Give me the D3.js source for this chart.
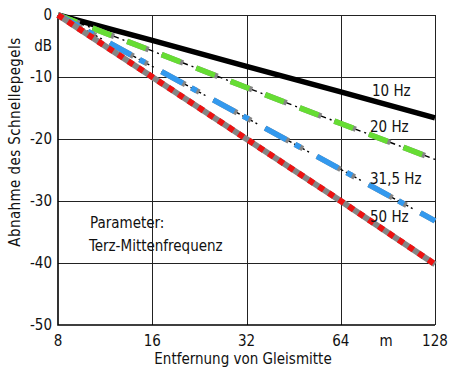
<!DOCTYPE html>
<html>
<head>
<meta charset="utf-8">
<script src="https://cdn.jsdelivr.net/npm/d3@7"></script>
<style>
  html, body { margin: 0; padding: 0; background: #fff; }
  svg { display: block; }
  text { font-family: "Liberation Sans Narrow", "DejaVu Sans Condensed", "Arial Narrow", sans-serif; fill: #111; }
</style>
</head>
<body>
<svg id="chart" width="449" height="370"></svg>
<script>
// Distance from track centre (m) and level decrease (dB) per third-octave band
const distances = [8, 16, 32, 64, 128];
const att10Hz  = [0, -4.1, -8.3, -12.4, -16.6];
const att20Hz  = [0, -5.8, -11.7, -17.5, -23.3];
const att315Hz = [0, -8.3, -16.6, -24.9, -33.2];
const att50Hz  = [0, -10.0, -20.0, -30.0, -40.2];

const seriesNames = ["10 Hz", "20 Hz", "31,5 Hz", "50 Hz"];

const xTicks = [8, 16, 32, 64, 128];
const xTickLabels = ["8", "16", "32", "64", "128"];
const yTicks = [0, -10, -20, -30, -40, -50];
const yTickLabels = ["0", "-10", "-20", "-30", "-40", "-50"];

const svg = d3.select("#chart");
const x = d3.scaleLog().base(2).domain([8, 128]).range([58, 435]);
const y = d3.scaleLinear().domain([-50, 0]).range([325, 15]);

// Grid
const grid = svg.append("g").attr("stroke", "#222").attr("stroke-width", 1);
grid.selectAll("line.h").data(yTicks.filter(v => v > -50)).join("line")
  .attr("x1", x(8)).attr("x2", x(128))
  .attr("y1", d => y(d) + 0.5).attr("y2", d => y(d) + 0.5);
grid.selectAll("line.v").data(xTicks.filter(v => v > 8)).join("line")
  .attr("y1", y(0)).attr("y2", y(-50))
  .attr("x1", d => Math.round(x(d)) + 0.5).attr("x2", d => Math.round(x(d)) + 0.5);

// Axes frame (left + bottom)
svg.append("path")
  .attr("d", `M${x(8)},${y(0)}V${y(-50)}H${x(128)}`)
  .attr("fill", "none").attr("stroke", "#000").attr("stroke-width", 1.6);

// Series
const lineGen = d3.line().x((d, i) => x(distances[i])).y(d => y(d));
const layers = [
  { values: att10Hz, strokes: [ { c: "#000", w: 5.5, dash: null } ] },
  { values: att20Hz, strokes: [
      { c: "#000", w: 1.4, dash: "28,4,2,3" },
      { c: "#858585", w: 5.5, dash: "23,14" },
      { c: "#66dd33", w: 5.5, dash: "20,17" } ] },
  { values: att315Hz, strokes: [
      { c: "#000", w: 1.4, dash: "30,3,2,2,8,3,2,9" },
      { c: "#858585", w: 5.5, dash: "27,7,9,16" },
      { c: "#3399ee", w: 5.5, dash: "24,10,6,19" } ] },
  { values: att50Hz, strokes: [
      { c: "#858585", w: 6, dash: null },
      { c: "#ee1111", w: 6, dash: "6,6" } ] }
];
const lg = svg.append("g").attr("fill", "none");
layers.forEach(s => {
  s.strokes.forEach(st => {
    lg.append("path").attr("d", lineGen(s.values))
      .attr("stroke", st.c).attr("stroke-width", st.w)
      .attr("stroke-dasharray", st.dash)
      .attr("stroke-linecap", "butt");
  });
});

// Series labels
const labelPos = [[372, 96], [370, 132], [370, 184], [370, 222]];
svg.append("g").selectAll("text").data(seriesNames).join("text")
  .attr("x", (d, i) => labelPos[i][0]).attr("y", (d, i) => labelPos[i][1])
  .attr("font-size", 15).text(d => d);

// Y tick labels
svg.append("g").selectAll("text").data(yTicks).join("text")
  .attr("x", 52).attr("y", d => y(d) + 5).attr("text-anchor", "end")
  .attr("font-size", 15).text((d, i) => yTickLabels[i]);
svg.append("text").attr("x", 52).attr("y", y(-5) + 5).attr("text-anchor", "end")
  .attr("font-size", 15).text("dB");

// X tick labels
svg.append("g").selectAll("text").data(xTicks).join("text")
  .attr("x", d => x(d)).attr("y", 346).attr("text-anchor", "middle")
  .attr("font-size", 15).text((d, i) => xTickLabels[i]);
svg.append("text").attr("x", 386).attr("y", 346).attr("text-anchor", "middle")
  .attr("font-size", 15).text("m");

// Axis titles
svg.append("text").attr("x", 243).attr("y", 364).attr("text-anchor", "middle")
  .attr("font-size", 15).text("Entfernung von Gleismitte");
svg.append("text").attr("transform", "translate(20,142) rotate(-90)")
  .attr("text-anchor", "middle").attr("font-size", 15).attr("letter-spacing", 0.4)
  .text("Abnahme des Schnellepegels");

// Parameter note
svg.append("text").attr("x", 90).attr("y", 228).attr("font-size", 15).text("Parameter:");
svg.append("text").attr("x", 89).attr("y", 251).attr("font-size", 15).text("Terz-Mittenfrequenz");
</script>
</body>
</html>
